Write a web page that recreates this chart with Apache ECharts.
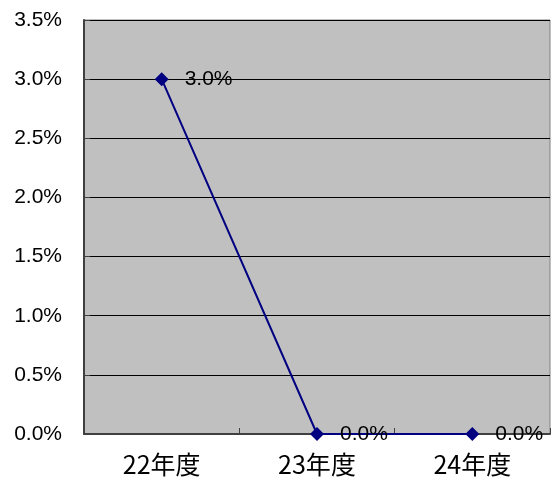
<!DOCTYPE html>
<html lang="ja">
	<head>
		<meta charset="UTF-8"/>
		<title></title>
		<script src="https://cdn.jsdelivr.net/npm/echarts@6/dist/echarts.min.js"></script>
		<style>
			html, body { margin: 0; padding: 0; background: #fff; }
		</style>
	</head>
	<body>
		<div id="main" style="width: 555px;height: 487px;"></div>
		<script type="text/javascript">
			var categories = ['22年度', '23年度', '24年度'];
			var rates = [3.0, 0.0, 0.0];
			var numFont = '"Liberation Sans", sans-serif';
			var catFont = '"Noto Sans CJK JP", sans-serif';

			var myChart = echarts.init(document.getElementById('main'));
			var option = {
				backgroundColor: '#ffffff',
				animation: false,
				grid: {
					left: 84,
					right: 5,
					top: 20,
					bottom: 53,
					show: true,
					backgroundColor: '#c0c0c0',
					borderColor: '#808080',
					borderWidth: 1
				},
				xAxis: {
					type: 'category',
					data: categories,
					boundaryGap: true,
					axisLine: { lineStyle: { color: '#404040', width: 2 } },
					axisTick: { show: true, inside: true, length: 6, lineStyle: { color: '#404040' } },
					axisLabel: { color: '#000', fontSize: 25, fontFamily: catFont, margin: 18 }
				},
				yAxis: {
					type: 'value',
					min: 0,
					max: 3.5,
					interval: 0.5,
					axisLine: { show: true, lineStyle: { color: '#404040', width: 2 } },
					axisTick: { show: true, inside: true, length: 6, lineStyle: { color: '#404040' } },
					axisLabel: {
						color: '#000', fontSize: 21, fontFamily: numFont, margin: 22,
						formatter: function (v) { return v.toFixed(1) + '%'; }
					},
					splitLine: { show: true, lineStyle: { color: '#000', width: 1 } }
				},
				series: [{
					type: 'line',
					data: rates,
					symbol: 'diamond',
					symbolSize: 14,
					lineStyle: { color: '#000080', width: 2 },
					itemStyle: { color: '#000080' },
					label: {
						show: true,
						position: 'right',
						distance: 16,
						color: '#000',
						fontSize: 21,
						fontFamily: numFont,
						formatter: function (p) { return p.value.toFixed(1) + '%'; }
					}
				}]
			};
			myChart.setOption(option);
		</script>
	</body>
</html>
